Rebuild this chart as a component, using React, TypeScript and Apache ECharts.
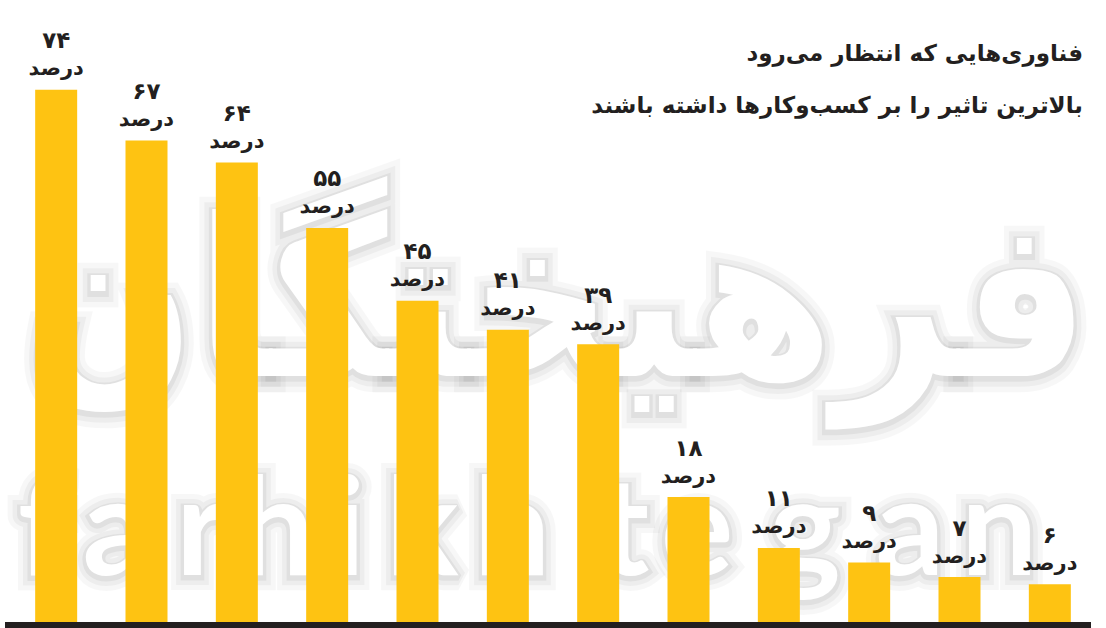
import React, { useEffect, useRef } from "react";
import * as echarts from "echarts";

const categories = ["1", "2", "3", "4", "5", "6", "7", "8", "9", "10", "11", "12"];
const values = [74, 67, 64, 55, 45, 41, 39, 18, 11, 9, 7, 6];
const titleLines = ["فناوری‌هایی که انتظار می‌رود", "بالاترین تاثیر را بر کسب‌وکارها داشته باشند"];
const unitLabel = "درصد";
const watermarkFa = "فرهیختگان";
const watermarkEn = ["f", "a", "r", "h", "i", "k", "h", "t", "e", "g", "a", "n"];
const watermarkEnX = [42, 117, 201, 276, 348, 422, 512, 624, 697, 805, 910, 999];

const faDigits = ["۰", "۱", "۲", "۳", "۴", "۵", "۶", "۷", "۸", "۹"];
const toFa = (v: number) => String(v).replace(/\d/g, (d) => faDigits[+d]);

const glowLayers = [
  { lw: 26, a: 0.03 },
  { lw: 16, a: 0.04 },
  { lw: 7, a: 0.05 },
];

function glowText(base: any, style: any): any[] {
  const out: any[] = glowLayers.map((g) => ({
    ...base,
    y: base.y + 2,
    type: "text",
    silent: true,
    z: -10,
    style: { ...style, fill: "rgba(0,0,0,0)", stroke: `rgba(0,0,0,${g.a})`, lineWidth: g.lw, lineJoin: "round" },
  }));
  out.push({ ...base, type: "text", silent: true, z: -9, style: { ...style, fill: "#ffffff" } });
  return out;
}

export default function App() {
  const ref = useRef<HTMLDivElement>(null);
  useEffect(() => {
    if (!ref.current) return;
    const chart = echarts.init(ref.current, null, { renderer: "svg" });
    const faFont = "bold 200px 'DejaVu Sans'";
    const c = document.createElement("canvas").getContext("2d")!;
    c.font = faFont;
    const w = c.measureText(watermarkFa).width || 1000;
    const sx = 1065 / w;
    const graphic: any[] = [
      ...glowText(
        { x: 557, y: 300, scaleX: sx, scaleY: 1.1 },
        { text: watermarkFa, font: faFont, align: "center", verticalAlign: "middle" }
      ),
      ...watermarkEn.flatMap((ch, i) =>
        glowText(
          { x: watermarkEnX[i], y: 522 },
          { text: ch, font: "bold 136px Lato", align: "center", verticalAlign: "middle" }
        )
      ),
      {
        type: "text",
        right: 23,
        top: 41,
        style: {
          text: titleLines[0],
          font: "bold 23px 'DejaVu Sans'",
          fill: "#231f20",
          align: "right",
        },
      },
      {
        type: "text",
        right: 23,
        top: 93,
        style: {
          text: titleLines[1],
          font: "bold 23px 'DejaVu Sans'",
          fill: "#231f20",
          align: "right",
        },
      },
      {
        type: "rect",
        shape: { x: 5, y: 622, width: 1086, height: 6 },
        z: 10,
        style: { fill: "#231f20" },
      },
    ];
    chart.setOption({
      animation: false,
      grid: { left: 11, right: 11, top: 46, bottom: 0, containLabel: false },
      xAxis: {
        type: "category",
        data: categories,
        axisLine: { show: false },
        axisTick: { show: false },
        axisLabel: { show: false },
      },
      yAxis: {
        type: "value",
        min: 0,
        max: 80,
        show: false,
        splitLine: { show: false },
      },
      graphic,
      series: [
        {
          type: "bar",
          data: values,
          barWidth: 42,
          itemStyle: { color: "#FEC312" },
          label: {
            show: true,
            position: "top",
            distance: 8,
            formatter: (p: any) => `{n|${toFa(p.value)}}\n{u|${unitLabel}}`,
            rich: {
              n: { fontSize: 23, fontWeight: "bold", lineHeight: 29, color: "#231f20", fontFamily: "DejaVu Sans" },
              u: { fontSize: 21, fontWeight: "bold", lineHeight: 27, color: "#231f20", fontFamily: "DejaVu Sans" },
            },
          },
        },
      ],
    });
    return () => chart.dispose();
  }, []);
  return (
    <div
      ref={ref}
      style={{ position: "fixed", left: 0, top: 0, width: 1106, height: 628, background: "#ffffff" }}
    />
  );
}
